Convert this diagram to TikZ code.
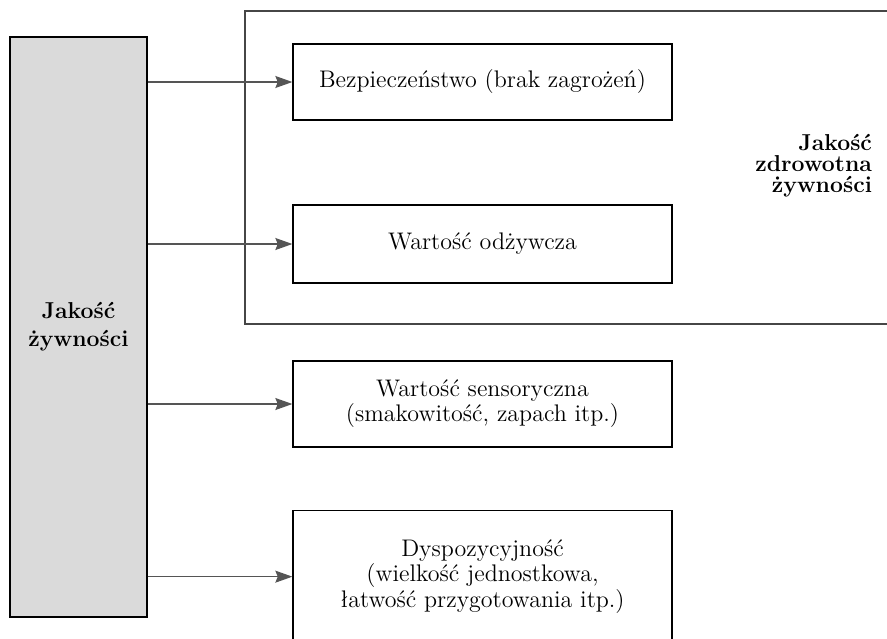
\documentclass[tikz,border=0pt]{standalone}
\usepackage{xcolor}
\usepackage{tikz}
\usetikzlibrary{positioning,arrows.meta,calc}
\definecolor{framegray}{RGB}{70,70,70}
\definecolor{arrowgray}{RGB}{85,85,85}
\definecolor{panelgray}{RGB}{218,218,218}

\begin{document}
\begin{tikzpicture}[x=0.5pt, y=-0.5pt,
    item/.style={draw=black, line width=0.65pt, fill=white, minimum width=189.5pt,
      align=center, inner sep=0pt, font=\fontsize{12}{10.8}\selectfont},
    link/.style={draw=arrowgray, line width=0.6pt,
      -{Stealth[length=8.5pt, width=6pt, inset=1.2pt]}}]
  \useasboundingbox (0,0) rectangle (887,638);

  \draw[line width=0.55pt, color=framegray]
    (887,11) -- (245,11) -- (245,324) -- (887,324);

  \node[draw=black, line width=0.65pt, fill=panelgray, minimum width=68.5pt,
    minimum height=290pt, align=center, font=\fontsize{11.5}{14}\selectfont\bfseries]
    (quality) at (78.5,327) {Jakość\\żywności};

  \node[anchor=east, align=right, font=\fontsize{11.5}{10.5}\selectfont\bfseries]
    (health) at (879,166) {Jakość\\zdrowotna\\żywności};

  \node[item, minimum height=38pt] (safety) at (482.5,82)
    {Bezpieczeństwo (brak zagrożeń)};
  \node[item, minimum height=39pt] (nutrition) at (482.5,244)
    {Wartość odżywcza};
  \node[item, minimum height=43pt] (sensory) at (482.5,404)
    {Wartość sensoryczna\\(smakowitość, zapach itp.)};
  \node[item, minimum height=66pt, anchor=north] (handy) at (482.5,510)
    {Dyspozycyjność\\(wielkość jednostkowa,\\łatwość przygotowania itp.)};

  \draw[link] (quality.east |- safety.west) -- (safety.west);
  \draw[link] (quality.east |- nutrition.west) -- (nutrition.west);
  \draw[link] (quality.east |- sensory.west) -- (sensory.west);
  \draw[link] (quality.east |- handy.west) -- (handy.west);
\end{tikzpicture}
\end{document}
